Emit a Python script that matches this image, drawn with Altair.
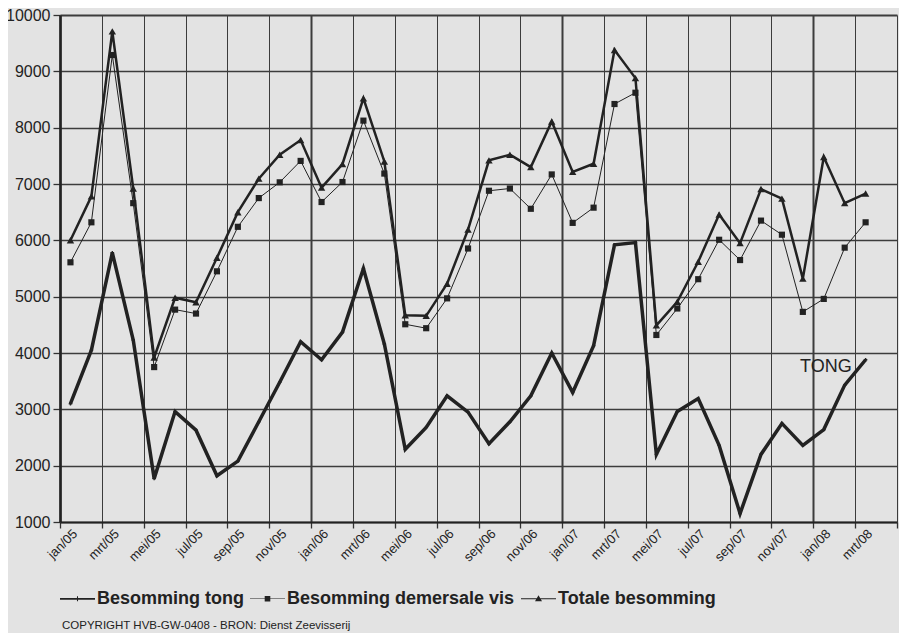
import altair as alt
import pandas as pd

months = ["jan/05","feb/05","mrt/05","apr/05","mei/05","jun/05","jul/05","aug/05","sep/05","okt/05","nov/05","dec/05",
          "jan/06","feb/06","mrt/06","apr/06","mei/06","jun/06","jul/06","aug/06","sep/06","okt/06","nov/06","dec/06",
          "jan/07","feb/07","mrt/07","apr/07","mei/07","jun/07","jul/07","aug/07","sep/07","okt/07","nov/07","dec/07",
          "jan/08","feb/08","mrt/08"]

tong = [3100,4050,5780,4230,1770,2960,2630,1820,2080,2780,3480,4200,
        3880,4370,5500,4160,2290,2680,3240,2950,2390,2780,3240,4000,
        3300,4130,5920,5960,2200,2960,3190,2360,1150,2200,2750,2360,
        2640,3430,3880]

demersale = [5610,6320,9290,6660,3750,4770,4700,5450,6240,6750,7030,7410,
             6680,7035,8125,7185,4510,4440,4970,5855,6880,6920,6560,7170,
             6310,6580,8420,8620,4320,4790,5310,6010,5650,6350,6100,4730,
             4960,5870,6320]

totale = [6000,6780,9710,6920,3920,4980,4900,5690,6500,7095,7520,7780,
          6935,7355,8520,7400,4670,4660,5230,6190,7420,7520,7300,8110,
          7215,7360,9380,8880,4490,4910,5620,6460,5950,6910,6740,5320,
          7480,6660,6830]

series = ["Besomming tong", "Besomming demersale vis", "Totale besomming"]
y_ticks = [1000, 2000, 3000, 4000, 5000, 6000, 7000, 8000, 9000, 10000]
annot_label = ["TONG"]
annot_x = [36.1]
annot_y = [3750]
copyright_text = "COPYRIGHT HVB-GW-0408 - BRON: Dienst Zeevisserij"

rows = []
for name, vals in zip(series, [tong, demersale, totale]):
    for i, v in enumerate(vals):
        rows.append({"idx": i, "month": months[i], "series": name, "value": v})
df = pd.DataFrame(rows)

ink = "#222222"
FONT = "Liberation Sans"
n_cat = 40
boundaries = [-0.5 + 2 * k for k in range(n_cat // 2 + 1)]
label_vals = list(range(0, len(months), 2))
month_arr = "[" + ",".join("'" + m + "'" for m in months) + "]"

xscale = alt.Scale(domain=[-0.5, n_cat - 0.5], nice=False, zero=False)
yscale = alt.Scale(domain=[1000, 10000], nice=False, zero=False)

yaxis = alt.Axis(values=y_ticks, title=None, format="d", labelFont=FONT, labelFontSize=16, labelColor=ink,
                 tickSize=7, tickColor="#333", tickWidth=1.3,
                 gridColor="#3c3c3c",
                 gridWidth={"condition": {"test": "datum.value == 10000", "value": 2.2}, "value": 1.3},
                 domainColor=ink, domainWidth=2.5, labelPadding=3)

grid_axis = alt.Axis(values=boundaries, labels=False, title=None, orient="bottom",
                     tickSize=6, tickColor="#333", tickWidth=1.3,
                     gridColor="#3c3c3c",
                     gridWidth={"condition": {"test": "(datum.value + 0.5) % 12 == 0", "value": 2}, "value": 1},
                     domainColor=ink, domainWidth=2.2)

label_axis = alt.Axis(values=label_vals, title=None, orient="bottom", grid=False, ticks=False, domain=False,
                      labelExpr=month_arr + "[datum.value]",
                      labelAngle=-45, labelAlign="right", labelBaseline="top",
                      labelFont=FONT, labelFontSize=13, labelColor=ink, labelPadding=5)

base = alt.Chart(df)

line_widths = {series[0]: 3.5, series[1]: 1.0, series[2]: 2.5}
point_shapes = {series[0]: "cross", series[1]: "square", series[2]: "triangle-up"}
point_sizes = {series[0]: 12, series[1]: 38, series[2]: 55}

layers = []
for k, s in enumerate(series):
    sub = base.transform_filter(alt.datum.series == s)
    xa = grid_axis if k == 0 else None
    ln = sub.mark_line(color=ink, strokeWidth=line_widths[s]).encode(
        x=alt.X("idx:Q", scale=xscale, axis=xa),
        y=alt.Y("value:Q", scale=yscale, axis=yaxis),
        order="idx:Q",
    )
    layers.append(ln)
for k, s in enumerate(series):
    sub = base.transform_filter(alt.datum.series == s)
    xa = label_axis if k == 0 else None
    pt = sub.mark_point(filled=True, color=ink, opacity=1, shape=point_shapes[s], size=point_sizes[s]).encode(
        x=alt.X("idx:Q", scale=xscale, axis=xa),
        y=alt.Y("value:Q", scale=yscale, axis=yaxis),
    )
    layers.append(pt)

legend_paths = [
    "M-1,-0.05H1V0.05H-1ZM-0.03,-0.14H0.03V0.14H-0.03Z",
    "M-1,-0.016H1V0.016H-1ZM-0.16,-0.16H0.16V0.16H-0.16Z",
    "M-1,-0.035H1V0.035H-1ZM0,-0.2L0.2,0.14H-0.2Z",
]

legend_layer = base.mark_point(filled=True, color=ink, opacity=1).encode(
    x=alt.X("idx:Q", scale=xscale, axis=None),
    y=alt.Y("value:Q", scale=yscale, axis=yaxis),
    shape=alt.Shape("series:N", scale=alt.Scale(domain=series, range=legend_paths),
                    legend=alt.Legend(title=None, orient="none", direction="horizontal",
                                      legendX=0, legendY=566, symbolSize=1225,
                                      symbolFillColor=ink, symbolStrokeWidth=0,
                                      symbolOpacity=1, labelFont=FONT, labelFontSize=18,
                                      labelFontWeight="bold", labelColor=ink, labelOffset=2,
                                      columnPadding=6, labelLimit=400)),
).transform_filter("false")
layers.append(legend_layer)

annot_df = pd.DataFrame({"label": annot_label, "x": annot_x, "y": annot_y})
annot = alt.Chart(annot_df).mark_text(font=FONT, fontSize=18, color=ink).encode(
    x=alt.X("x:Q", scale=xscale, axis=None),
    y=alt.Y("y:Q", scale=yscale, axis=yaxis),
    text="label:N",
)
layers.append(annot)

copy_df = pd.DataFrame({"t": [copyright_text]})
copyright = alt.Chart(copy_df).mark_text(font=FONT, fontSize=11.5, color=ink, align="left", baseline="alphabetic").encode(
    x=alt.value(2), y=alt.value(614), text="t:N"
)
layers.append(copyright)

chart = alt.layer(*layers).resolve_axis(x="independent").properties(
    width=837, height=507,
    autosize=alt.AutoSizeParams(type="none"),
    padding={"left": 52, "top": 7, "right": 2, "bottom": 111},
    background="#e3e3e3",
).configure_view(strokeWidth=0)

chart.save("out.html", embed_options={"renderer": "svg", "actions": False})
